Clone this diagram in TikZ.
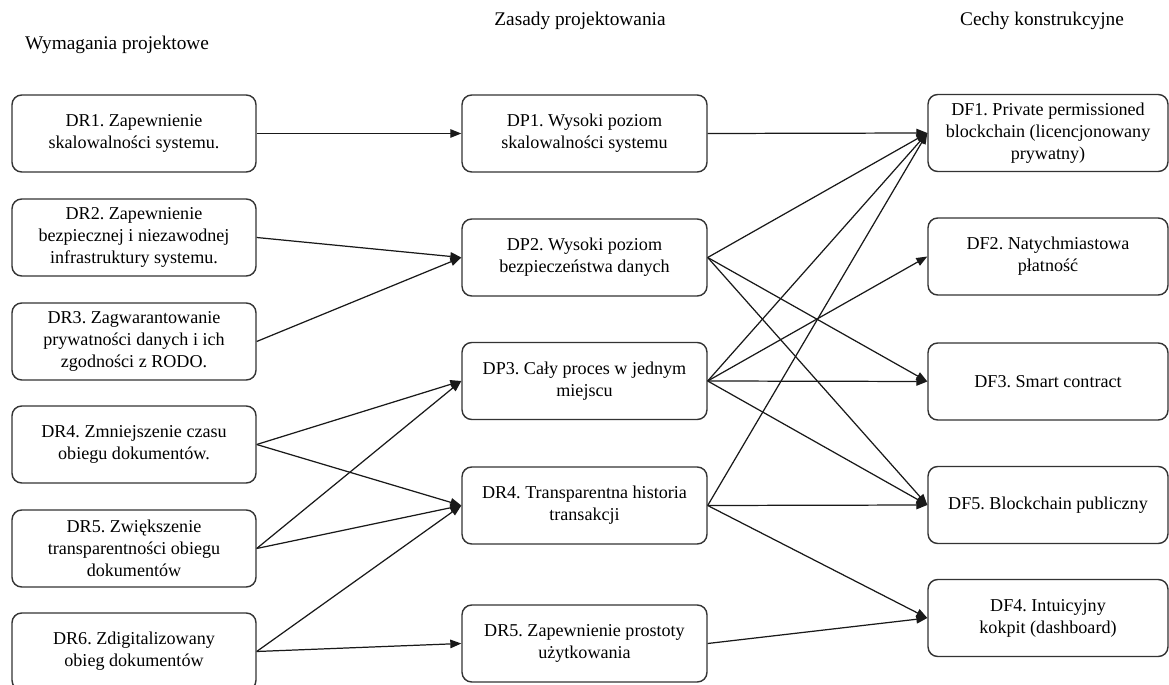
\documentclass[tikz,border=0pt]{standalone}
\usepackage{fontspec}
\setmainfont{Liberation Serif}
\usepackage{tikz}
\usetikzlibrary{arrows.meta}
\frenchspacing

\begin{document}
\begin{tikzpicture}[x=0.02cm, y=-0.02cm,
  card/.style={rectangle, rounded corners=5.5pt, draw=black!80, line width=0.8pt, fill=white, align=center, font=\fontsize{10.3}{12.5}\selectfont, minimum width=4.88cm, minimum height=1.54cm, inner sep=0pt},
  head/.style={font=\fontsize{11}{13}\selectfont, inner sep=0pt},
  link/.style={-{Triangle[length=2.2mm,width=1.7mm]}, line width=0.7pt, black!90}
]
  \useasboundingbox (0,0) rectangle (1169,685);
  % column headers
  \node[head] (hreq) at (117,45) {Wymagania projektowe};
  \node[head] (hprin) at (580,21) {Zasady projektowania};
  \node[head] (hfeat) at (1042,21) {Cechy konstrukcyjne};
  % requirements
  \node[card] (dr1) at (134,133.5) {DR1. Zapewnienie\\skalowalności systemu.};
  \node[card] (dr2) at (134,237.5) {DR2. Zapewnienie\\bezpiecznej i niezawodnej\\infrastruktury systemu.};
  \node[card] (dr3) at (134,341.5) {DR3. Zagwarantowanie\\prywatności danych i ich\\zgodności z RODO.};
  \node[card] (dr4) at (134,444.5) {DR4. Zmniejszenie czasu\\obiegu dokumentów.};
  \node[card] (dr5) at (134,548.5) {DR5. Zwiększenie\\transparentności obiegu\\dokumentów};
  \node[card] (dr6) at (134,651.5) {DR6. Zdigitalizowany\\obieg dokumentów};
  % principles
  \node[card, minimum width=4.9cm] (dp1) at (584.5,133.5) {DP1. Wysoki poziom\\skalowalności systemu};
  \node[card, minimum width=4.9cm] (dp2) at (584.5,257.5) {DP2. Wysoki poziom\\bezpieczeństwa danych};
  \node[card, minimum width=4.9cm] (dp3) at (584.5,381) {DP3. Cały proces w jednym\\miejscu};
  \node[card, minimum width=4.9cm] (dp4) at (584.5,505.5) {DR4. Transparentna historia\\transakcji};
  \node[card, minimum width=4.9cm] (dp5) at (584.5,643.5) {DR5. Zapewnienie prostoty\\użytkowania};
  % design features
  \node[card, minimum width=4.8cm] (df1) at (1048,133) {DF1. Private permissioned\\blockchain (licencjonowany\\prywatny)};
  \node[card, minimum width=4.8cm] (df2) at (1048,256.5) {DF2. Natychmiastowa\\płatność};
  \node[card, minimum width=4.8cm] (df3) at (1048,381.5) {DF3. Smart contract};
  \node[card, minimum width=4.8cm] (df5) at (1048,505) {DF5. Blockchain publiczny};
  \node[card, minimum width=4.8cm] (df4) at (1048,618) {DF4. Intuicyjny\\kokpit (dashboard)};
  % links
  \foreach \a/\b in {dr1/dp1, dr2/dp2, dr3/dp2, dr4/dp3, dr4/dp4, dr5/dp3, dr5/dp4, dr6/dp4, dr6/dp5,
    dp1/df1, dp2/df1, dp2/df3, dp2/df5, dp3/df1, dp3/df2, dp3/df3, dp3/df5, dp4/df1, dp4/df5, dp4/df4, dp5/df4}
    \draw[link] (\a.east) -- (\b.west);
\end{tikzpicture}
\end{document}
